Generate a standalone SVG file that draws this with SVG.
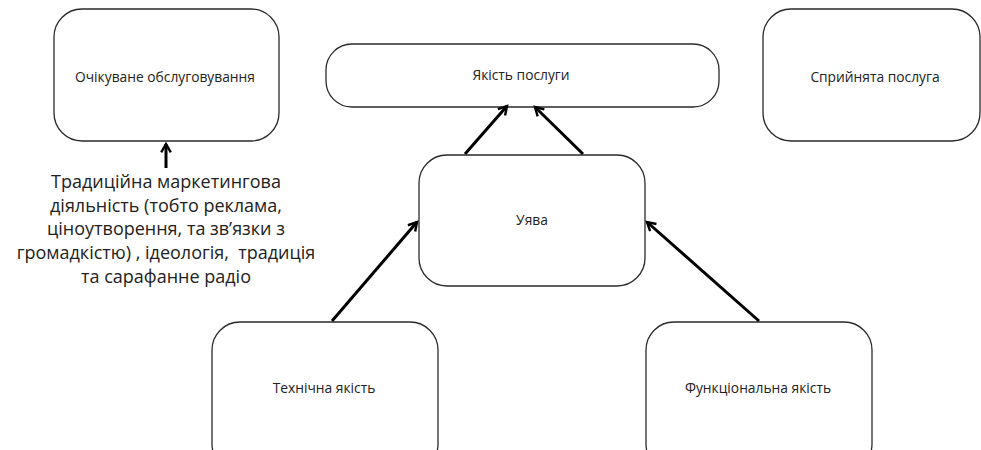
<svg xmlns="http://www.w3.org/2000/svg" width="981" height="450" viewBox="0 0 981 450">
<defs>
<marker id="arr" viewBox="0 0 10 10" refX="8" refY="5" markerWidth="4" markerHeight="4" orient="auto" markerUnits="strokeWidth">
<path d="M1,1 L8,5 L1,9" fill="none" stroke="#000" stroke-width="2"/>
</marker>
<style>
.box{fill:#fff;stroke:#2a2a2a;stroke-width:1.3}
.lbl{font-family:"Open Sans","Noto Sans",sans-serif;font-size:13.8px;fill:#222;text-anchor:middle}
.big{font-family:"Open Sans","Noto Sans",sans-serif;font-size:18px;fill:#222;text-anchor:middle}
.con{stroke:#000;stroke-width:3;fill:none;marker-end:url(#arr)}
</style>
</defs>
<rect width="981" height="450" fill="#fff"/>
<g id="n-expected"><rect class="box" x="54" y="9" width="225" height="132" rx="28"/><text class="lbl" x="165" y="82">Очікуване обслуговування</text></g>
<g id="n-quality"><rect class="box" x="326" y="44" width="393" height="63" rx="26"/><text class="lbl" x="521" y="80">Якість послуги</text></g>
<g id="n-perceived"><rect class="box" x="763" y="9" width="217" height="132" rx="28"/><text class="lbl" x="875" y="82">Сприйнята послуга</text></g>
<g id="n-image"><rect class="box" x="419" y="155" width="226" height="131" rx="28"/><text class="lbl" x="532" y="225">Уява</text></g>
<g id="n-tech"><rect class="box" x="212" y="322" width="226" height="150" rx="28"/><text class="lbl" x="324" y="393">Технічна якість</text></g>
<g id="n-func"><rect class="box" x="646" y="322" width="226" height="150" rx="28"/><text class="lbl" x="758" y="393">Функціональна якість</text></g>
<g id="n-text">
<text class="big" x="166" y="188">Традиційна маркетингова</text>
<text class="big" x="166" y="212">діяльність (тобто реклама,</text>
<text class="big" x="166" y="235">ціноутворення, та зв’язки з</text>
<text class="big" x="166" y="259" xml:space="preserve">громадкістю) , ідеологія,  традиція</text>
<text class="big" x="166" y="283">та сарафанне радіо</text>
</g>
<g id="connectors">
<line class="con" x1="166" y1="168" x2="166" y2="144"/>
<line class="con" x1="465" y1="154" x2="507" y2="106"/>
<line class="con" x1="583" y1="154" x2="535" y2="107"/>
<line class="con" x1="332" y1="321" x2="417" y2="222"/>
<line class="con" x1="759" y1="321" x2="647" y2="222"/>
</g>
</svg>
